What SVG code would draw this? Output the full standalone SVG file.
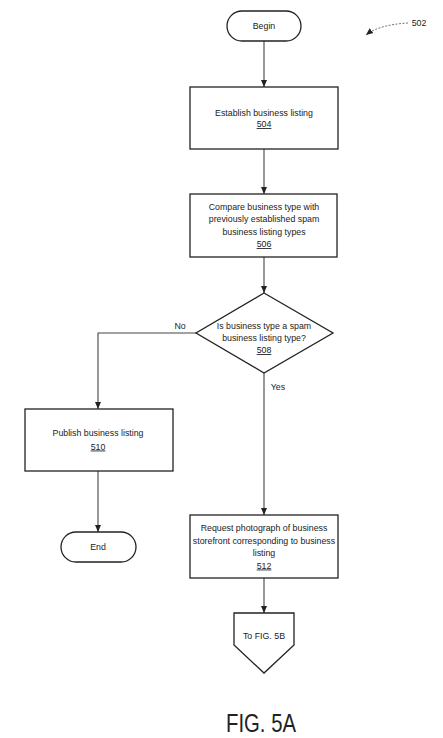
<svg xmlns="http://www.w3.org/2000/svg" width="443" height="738" viewBox="0 0 443 738">
<defs>
<marker id="arr" markerWidth="8" markerHeight="8" refX="7" refY="4" orient="auto" markerUnits="userSpaceOnUse">
<path d="M0,1 L7,4 L0,7 Z" fill="#222"/>
</marker>
<style>
.n{fill:#fff;stroke:#222;stroke-width:1.3}
.t{font-family:"Liberation Sans",Arial,sans-serif;font-size:8.8px;fill:#222;text-anchor:middle}
.u{text-decoration:underline}
.c{fill:none;stroke:#444;stroke-width:1.1}
</style>
</defs>
<rect width="443" height="738" fill="#fff"/>
<g id="connectors">
<line class="c" x1="264" y1="41" x2="264" y2="87" marker-end="url(#arr)"/>
<line class="c" x1="264" y1="149" x2="264" y2="194" marker-end="url(#arr)"/>
<line class="c" x1="264" y1="257" x2="264" y2="293" marker-end="url(#arr)"/>
<polyline class="c" points="196,333 98,333 98,409" marker-end="url(#arr)"/>
<line class="c" x1="264" y1="373" x2="264" y2="515" marker-end="url(#arr)"/>
<line class="c" x1="98" y1="471" x2="98" y2="532" marker-end="url(#arr)"/>
<line class="c" x1="264" y1="578" x2="264" y2="613" marker-end="url(#arr)"/>
<text class="t" x="180" y="329">No</text>
<text class="t" x="278" y="390">Yes</text>
<path d="M408,23 C392,24 376,27 366,35" fill="none" stroke="#666" stroke-width="0.9" stroke-dasharray="2,1.5" marker-end="url(#arr)"/>
<text class="t" x="419" y="26">502</text>
</g>
<g id="begin">
<rect class="n" x="227" y="11" width="74" height="30" rx="15"/>
<text class="t" x="264" y="29">Begin</text>
</g>
<g id="n504">
<rect class="n" x="190" y="87" width="148" height="62"/>
<text class="t" x="264" y="115.5">Establish business listing</text>
<text class="t u" x="264" y="127">504</text>
</g>
<g id="n506">
<rect class="n" x="190" y="194" width="147" height="63"/>
<text class="t" x="264" y="209.5">Compare business type with</text>
<text class="t" x="264" y="222">previously established spam</text>
<text class="t" x="264" y="234.5">business listing types</text>
<text class="t u" x="264" y="247">506</text>
</g>
<g id="n508">
<polygon class="n" points="264,293 333,333 264,373 196,333"/>
<text class="t" x="264" y="329">Is business type a spam</text>
<text class="t" x="264" y="341">business listing type?</text>
<text class="t u" x="264" y="353">508</text>
</g>
<g id="n510">
<rect class="n" x="25" y="409" width="148" height="62"/>
<text class="t" x="98" y="436">Publish business listing</text>
<text class="t u" x="98" y="449.5">510</text>
</g>
<g id="end">
<rect class="n" x="61" y="532" width="75" height="30" rx="15"/>
<text class="t" x="98" y="550">End</text>
</g>
<g id="n512">
<rect class="n" x="190" y="515" width="148" height="63"/>
<text class="t" x="264" y="531">Request photograph of business</text>
<text class="t" x="264" y="543.5">storefront corresponding to business</text>
<text class="t" x="264" y="556">listing</text>
<text class="t u" x="264" y="568.5">512</text>
</g>
<g id="offpage">
<polygon class="n" points="234,613 294,613 294,645 264,673 234,645"/>
<text class="t" x="264" y="639">To FIG. 5B</text>
</g>
<text x="261" y="731.5" font-family="Liberation Sans,Arial,sans-serif" font-size="25" fill="#222" text-anchor="middle" textLength="70" lengthAdjust="spacingAndGlyphs">FIG. 5A</text>
</svg>
